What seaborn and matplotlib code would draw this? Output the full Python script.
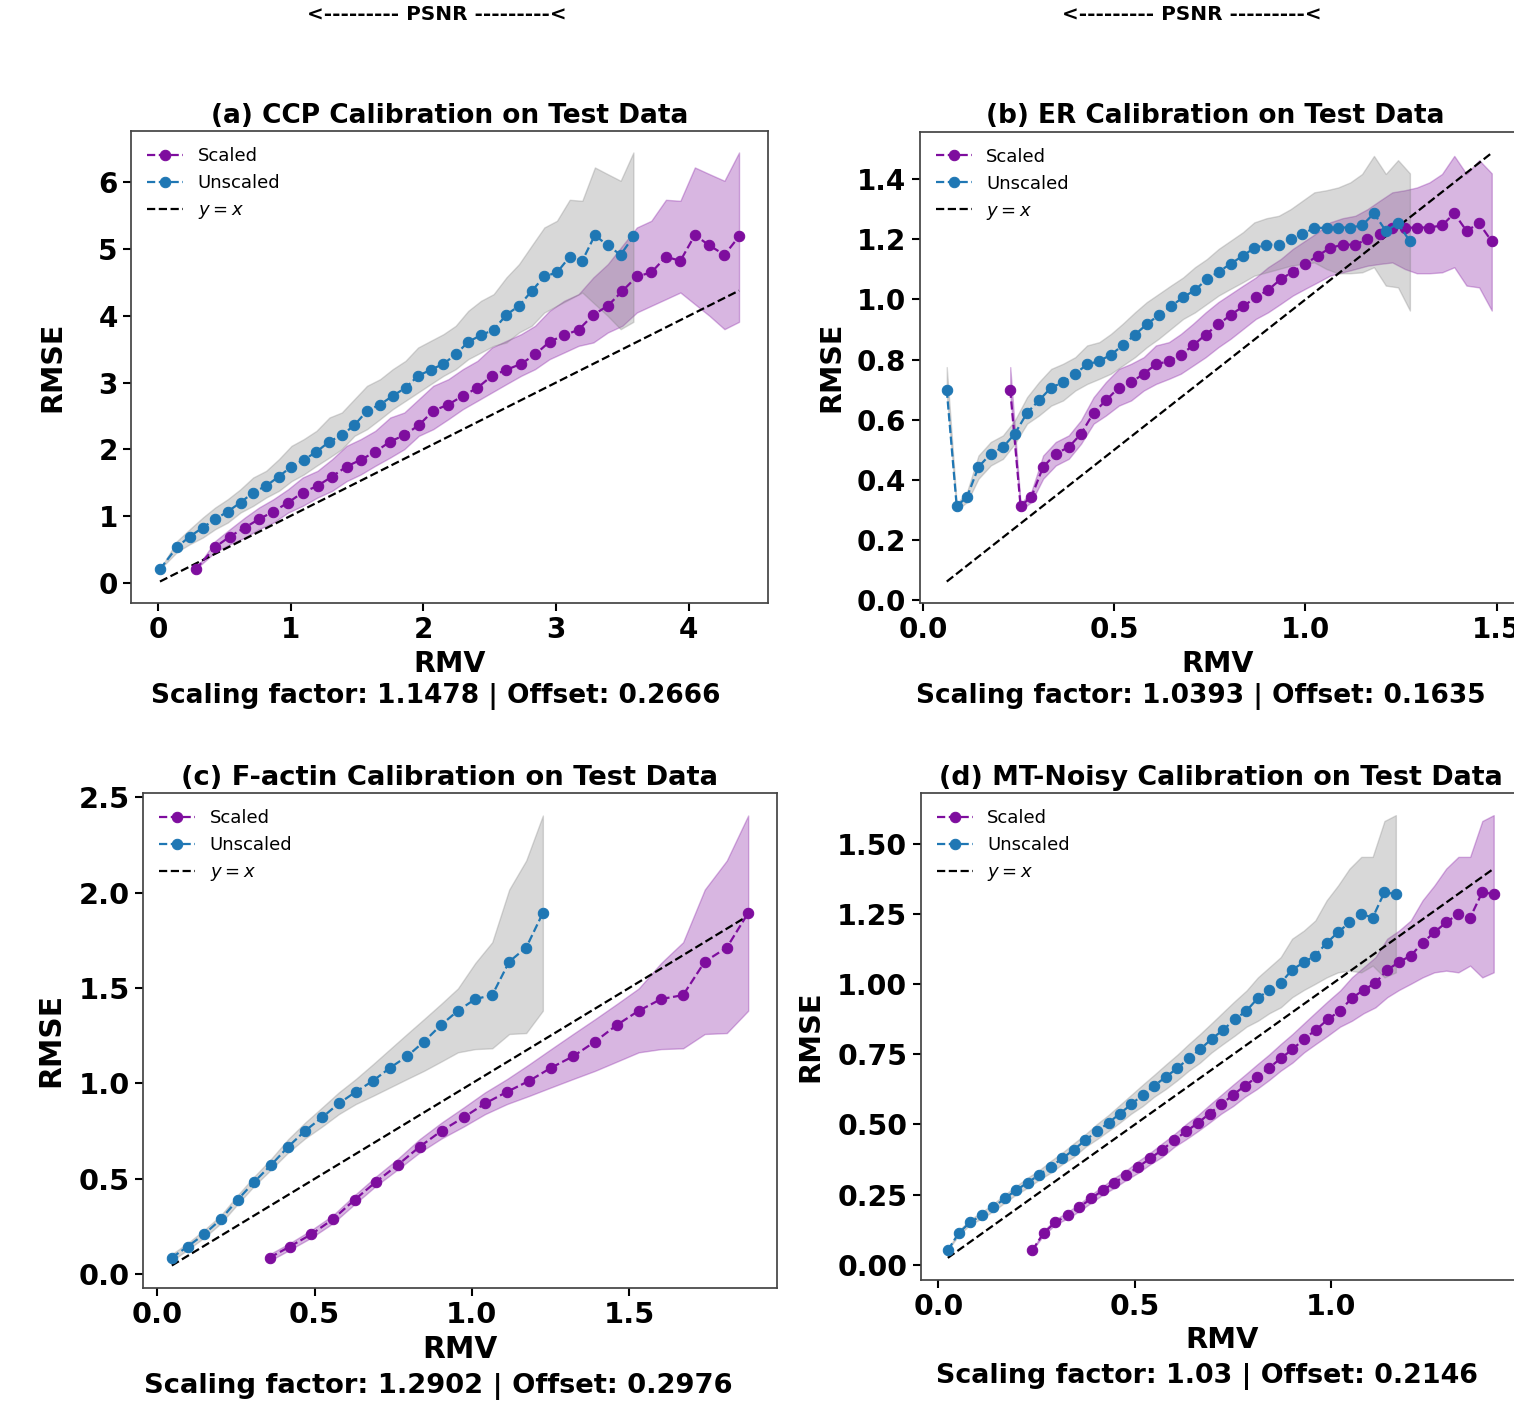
import matplotlib
matplotlib.use("Agg")
import matplotlib.pyplot as plt
import matplotlib.ticker as mticker
import seaborn as sns

# ---------------- data ----------------
# (a) CCP
a_rmv = [0.015, 0.145, 0.240, 0.338, 0.431, 0.526, 0.622, 0.717, 0.815, 0.911,
         1.006, 1.098, 1.194, 1.292, 1.385, 1.480, 1.575, 1.674, 1.769, 1.865,
         1.960, 2.055, 2.151, 2.243, 2.338, 2.434, 2.529, 2.625, 2.720, 2.815,
         2.911, 3.006, 3.102, 3.197, 3.292, 3.388, 3.486, 3.582]
a_rmv_scaled = [0.284, 0.433, 0.542, 0.655, 0.761, 0.870, 0.981, 1.090, 1.202, 1.312,
                1.421, 1.527, 1.637, 1.750, 1.856, 1.965, 2.074, 2.188, 2.297, 2.407,
                2.516, 2.625, 2.736, 2.841, 2.950, 3.060, 3.169, 3.280, 3.389, 3.498,
                3.608, 3.717, 3.827, 3.936, 4.045, 4.155, 4.268, 4.378]
a_rmse = [0.20, 0.535, 0.69, 0.825, 0.95, 1.065, 1.20, 1.35, 1.45, 1.59,
          1.74, 1.84, 1.96, 2.115, 2.21, 2.36, 2.575, 2.67, 2.80, 2.92,
          3.10, 3.19, 3.28, 3.42, 3.61, 3.71, 3.79, 4.015, 4.15, 4.37,
          4.59, 4.65, 4.885, 4.825, 5.21, 5.055, 4.915, 5.19]
a_low = [0.20, 0.46, 0.575, 0.675, 0.80, 0.90, 1.05, 1.15, 1.275, 1.375,
         1.52, 1.62, 1.75, 1.875, 2.00, 2.20, 2.30, 2.45, 2.60, 2.725,
         2.85, 2.975, 3.10, 3.20, 3.35, 3.45, 3.55, 3.60, 3.75, 3.85,
         4.05, 4.15, 4.25, 4.35, 4.175, 4.00, 3.80, 3.91]
a_high = [0.20, 0.625, 0.80, 0.975, 1.125, 1.25, 1.40, 1.575, 1.675, 1.85,
          2.05, 2.15, 2.275, 2.475, 2.55, 2.75, 2.95, 3.05, 3.20, 3.325,
          3.525, 3.625, 3.725, 3.85, 4.075, 4.225, 4.325, 4.575, 4.775, 5.05,
          5.325, 5.425, 5.74, 5.725, 6.225, 6.125, 6.025, 6.45]

# (b) ER
b_rmv = [0.062, 0.088, 0.115, 0.145, 0.177, 0.209, 0.240, 0.272, 0.303, 0.335,
         0.366, 0.398, 0.429, 0.461, 0.491, 0.522, 0.554, 0.585, 0.616, 0.648,
         0.680, 0.711, 0.742, 0.773, 0.804, 0.836, 0.866, 0.898, 0.930, 0.961,
         0.992, 1.023, 1.055, 1.085, 1.117, 1.148, 1.179, 1.210, 1.242, 1.273]
b_rmv_scaled = [0.228, 0.255, 0.283, 0.314, 0.347, 0.381, 0.413, 0.446, 0.478, 0.512,
                0.544, 0.577, 0.609, 0.643, 0.674, 0.706, 0.739, 0.772, 0.804, 0.837,
                0.870, 0.902, 0.935, 0.967, 0.999, 1.032, 1.064, 1.097, 1.130, 1.162,
                1.194, 1.227, 1.260, 1.291, 1.324, 1.357, 1.389, 1.421, 1.454, 1.487]
b_rmse = [0.700, 0.313, 0.343, 0.443, 0.487, 0.509, 0.553, 0.623, 0.664, 0.707,
          0.724, 0.753, 0.784, 0.795, 0.816, 0.847, 0.883, 0.917, 0.948, 0.977,
          1.007, 1.031, 1.067, 1.092, 1.118, 1.145, 1.171, 1.182, 1.182, 1.200,
          1.217, 1.238, 1.238, 1.239, 1.239, 1.246, 1.286, 1.228, 1.253, 1.193]
b_low = [0.686, 0.299, 0.326, 0.404, 0.448, 0.470, 0.520, 0.587, 0.614, 0.647,
         0.664, 0.697, 0.719, 0.736, 0.753, 0.780, 0.808, 0.841, 0.869, 0.902,
         0.935, 0.957, 0.985, 1.013, 1.035, 1.057, 1.079, 1.090, 1.101, 1.112,
         1.118, 1.123, 1.101, 1.087, 1.087, 1.090, 1.107, 1.046, 1.040, 0.963]
b_high = [0.775, 0.321, 0.360, 0.481, 0.526, 0.548, 0.598, 0.675, 0.725, 0.769,
          0.786, 0.808, 0.847, 0.858, 0.885, 0.919, 0.957, 0.991, 1.018, 1.046,
          1.073, 1.107, 1.134, 1.168, 1.195, 1.223, 1.256, 1.270, 1.278, 1.300,
          1.328, 1.356, 1.363, 1.372, 1.389, 1.417, 1.477, 1.417, 1.463, 1.419]

# (c) F-actin
c_rmv = [0.046, 0.096, 0.149, 0.202, 0.255, 0.308, 0.363, 0.416, 0.470, 0.524,
         0.577, 0.631, 0.686, 0.740, 0.794, 0.848, 0.902, 0.956, 1.011, 1.065,
         1.119, 1.173, 1.226]
c_rmv_scaled = [0.357, 0.421, 0.490, 0.558, 0.627, 0.695, 0.766, 0.834, 0.904, 0.974,
                1.042, 1.112, 1.183, 1.252, 1.322, 1.392, 1.461, 1.531, 1.602, 1.672,
                1.741, 1.811, 1.879]
c_rmse = [0.087, 0.145, 0.210, 0.288, 0.390, 0.484, 0.575, 0.668, 0.752, 0.822,
          0.895, 0.956, 1.014, 1.082, 1.142, 1.219, 1.306, 1.381, 1.442, 1.463,
          1.638, 1.712, 1.893]
c_low = [0.070, 0.128, 0.192, 0.267, 0.367, 0.463, 0.551, 0.638, 0.712, 0.774,
         0.839, 0.892, 0.935, 0.979, 1.023, 1.066, 1.114, 1.163, 1.180, 1.184,
         1.259, 1.264, 1.381]
c_high = [0.105, 0.163, 0.232, 0.309, 0.414, 0.512, 0.607, 0.708, 0.795, 0.874,
          0.953, 1.023, 1.101, 1.180, 1.259, 1.337, 1.416, 1.498, 1.631, 1.740,
          2.016, 2.168, 2.404]

# (d) MT-Noisy
d_rmv = [0.024, 0.052, 0.081, 0.111, 0.140, 0.169, 0.198, 0.227, 0.256, 0.286,
         0.315, 0.344, 0.374, 0.403, 0.433, 0.462, 0.491, 0.520, 0.549, 0.578,
         0.608, 0.637, 0.666, 0.695, 0.724, 0.754, 0.784, 0.813, 0.842, 0.871,
         0.900, 0.930, 0.959, 0.988, 1.017, 1.046, 1.076, 1.105, 1.135, 1.164]
d_rmv_scaled = [0.239, 0.268, 0.298, 0.329, 0.359, 0.389, 0.419, 0.448, 0.478, 0.509,
                0.539, 0.569, 0.600, 0.630, 0.661, 0.690, 0.720, 0.750, 0.780, 0.810,
                0.841, 0.871, 0.901, 0.930, 0.960, 0.991, 1.022, 1.052, 1.082, 1.112,
                1.142, 1.172, 1.202, 1.232, 1.262, 1.292, 1.323, 1.353, 1.384, 1.413]
d_rmse = [0.051, 0.113, 0.151, 0.176, 0.205, 0.236, 0.266, 0.292, 0.320, 0.349,
          0.379, 0.409, 0.444, 0.475, 0.506, 0.539, 0.572, 0.606, 0.638, 0.669,
          0.701, 0.736, 0.768, 0.805, 0.837, 0.875, 0.906, 0.951, 0.980, 1.005,
          1.052, 1.079, 1.103, 1.148, 1.186, 1.221, 1.252, 1.238, 1.329, 1.322]
d_low = [0.051, 0.105, 0.143, 0.165, 0.191, 0.221, 0.250, 0.274, 0.302, 0.328,
         0.358, 0.384, 0.420, 0.447, 0.477, 0.507, 0.539, 0.566, 0.599, 0.626,
         0.658, 0.692, 0.721, 0.757, 0.787, 0.817, 0.849, 0.870, 0.897, 0.918,
         0.954, 0.980, 1.002, 1.025, 1.043, 1.049, 1.043, 1.067, 1.025, 1.043]
d_high = [0.051, 0.122, 0.161, 0.188, 0.217, 0.250, 0.280, 0.310, 0.336, 0.370,
          0.399, 0.432, 0.465, 0.501, 0.534, 0.570, 0.606, 0.642, 0.677, 0.713,
          0.749, 0.787, 0.823, 0.861, 0.900, 0.940, 0.978, 1.025, 1.061, 1.097,
          1.163, 1.192, 1.228, 1.300, 1.353, 1.413, 1.455, 1.455, 1.583, 1.604]

titles = ["(a) CCP Calibration on Test Data", "(b) ER Calibration on Test Data",
          "(c) F-actin Calibration on Test Data", "(d) MT-Noisy Calibration on Test Data"]
scales = ["1.1478", "1.0393", "1.2902", "1.03"]
offsets = ["0.2666", "0.1635", "0.2976", "0.2146"]

# ---------------- style ----------------
sns.set_theme(style="ticks", context="notebook")
plt.rcParams['font.family'] = ['DejaVu Sans']
plt.rcParams['font.weight'] = 'bold'
plt.rcParams['axes.titleweight'] = 'bold'
plt.rcParams['axes.labelweight'] = 'bold'
plt.rcParams['text.color'] = 'black'
plt.rcParams['axes.labelcolor'] = 'black'
plt.rcParams['axes.titlecolor'] = 'black'
plt.rcParams['xtick.color'] = 'black'
plt.rcParams['ytick.color'] = 'black'
plt.rcParams['axes.edgecolor'] = '#444444'
plt.rcParams['mathtext.fontset'] = 'custom'
plt.rcParams['mathtext.it'] = 'DejaVu Sans:italic:normal'
plt.rcParams['mathtext.rm'] = 'DejaVu Sans:normal'

PURPLE = '#7E0D9E'
BLUE = '#1f77b4'

W, H = 1514, 1403
fig = plt.figure(figsize=(W / 100, H / 100), dpi=100)


def px_axes(l, r, t, b):
    return fig.add_axes([l / W, 1 - b / H, (r - l) / W, (b - t) / H])


def draw(ax, rmv, rmv_sc, rmse, lo, hi):
    ax.fill_between(rmv_sc, lo, hi, color=PURPLE, alpha=0.3, zorder=1)
    ax.fill_between(rmv, lo, hi, color='gray', alpha=0.3, zorder=1.5)
    sns.lineplot(x=rmv_sc, y=rmse, ax=ax, color=PURPLE, marker='o', linestyle='--',
                 linewidth=1.6, markersize=7.5, markeredgecolor=PURPLE,
                 label='Scaled', sort=False, errorbar=None, zorder=3)
    sns.lineplot(x=rmv, y=rmse, ax=ax, color=BLUE, marker='o', linestyle='--',
                 linewidth=1.6, markersize=7.5, markeredgecolor=BLUE,
                 label='Unscaled', sort=False, errorbar=None, zorder=3)
    line = [min(rmv), max(rmv_sc)]
    sns.lineplot(x=line, y=line, ax=ax, color='black', linestyle='--', linewidth=1.6,
                 label='$y = x$', sort=False, errorbar=None, zorder=2)
    ax.legend(loc='upper left', frameon=False, prop={'size': 13, 'weight': 'normal'})


panels = [
    dict(box=(131, 768, 131, 603), data=(a_rmv, a_rmv_scaled, a_rmse, a_low, a_high),
         xt=1.0, yt=1.0, tx=0.5, ylab=(52, 367), xlab=(450, 664), sc=(436, 697), k=1.0),
    dict(box=(919.5, 1519, 131.5, 603), data=(b_rmv, b_rmv_scaled, b_rmse, b_low, b_high),
         xt=0.5, yt=0.2, tx=0.493, ylab=(831, 367), xlab=(1218, 664), sc=(1201, 697), k=1.0),
    dict(box=(143, 777, 793, 1288), data=(c_rmv, c_rmv_scaled, c_rmse, c_low, c_high),
         xt=0.5, yt=0.5, tx=0.484, ylab=(51, 1040), xlab=(460, 1350), sc=(438, 1386), k=1.04),
    dict(box=(920.5, 1521, 793, 1280), data=(d_rmv, d_rmv_scaled, d_rmse, d_low, d_high),
         xt=0.5, yt=0.25, tx=0.501, ylab=(810, 1036), xlab=(1222, 1340), sc=(1207, 1376), k=1.02),
]

for i, p in enumerate(panels):
    k = p['k']
    ax = px_axes(*p['box'])
    draw(ax, *p['data'])
    ax.tick_params(length=6, width=1.5, labelsize=20 * k)
    ax.xaxis.set_major_locator(mticker.MultipleLocator(p['xt']))
    ax.yaxis.set_major_locator(mticker.MultipleLocator(p['yt']))
    if i == 3:
        ax.yaxis.set_major_formatter(mticker.FormatStrFormatter('%.2f'))
    ax.set_title(titles[i], fontsize=19 * k, fontweight='bold', x=p['tx'])
    ax.set_ylabel('RMSE', fontsize=20.5 * k, fontweight='bold')
    ax.yaxis.label.set_verticalalignment('center')
    ax.yaxis.set_label_coords(p['ylab'][0] / W, 1 - p['ylab'][1] / H, transform=fig.transFigure)
    ax.set_xlabel('RMV', fontsize=20.5 * k, fontweight='bold')
    ax.xaxis.label.set_verticalalignment('center')
    ax.xaxis.set_label_coords(p['xlab'][0] / W, 1 - p['xlab'][1] / H, transform=fig.transFigure)
    fig.text(p['sc'][0] / W, 1 - p['sc'][1] / H,
             f"Scaling factor: {scales[i]} | Offset: {offsets[i]}",
             ha='center', va='center', fontsize=19 * k, fontweight='bold')

for cx in (437, 1192):
    fig.text(cx / W, 1 - 14 / H, "<--------- PSNR ---------<", ha='center', va='center',
             fontsize=14.4, fontweight='heavy')

fig.savefig("out.png", dpi=100)
